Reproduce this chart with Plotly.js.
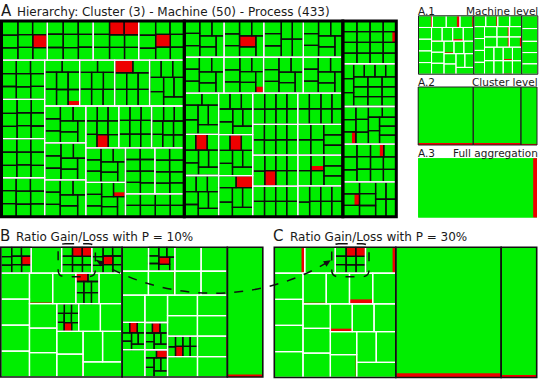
<!DOCTYPE html>
<html>
<head>
<meta charset="utf-8">
<script src="https://cdn.plot.ly/plotly-3.0.1.min.js"></script>
<style>
  html, body { margin: 0; padding: 0; background: #fff; }
  #chart { width: 543px; height: 382px; }
</style>
</head>
<body>
<div id="chart"></div>
<script>
// ---------------------------------------------------------------
// Data: 3 clusters, 50 machines, 433 processes (load per process)
// ---------------------------------------------------------------
const clusterNames = ['c1', 'c2', 'c3'];

// cluster 1: 23 machines
const processLoadC1 = [
  [23, 21, 20, 20, 20, 19, 19, 19, 18],
  [21, 21, 20, 20, 20, 20, 19, 19, 19],
  [22, 21, 21, 20, 20, 19, 19, 18, 18],
  [24, 22, 20, 19, 19, 19, 19, 18, 18],
  [20, 19, 19, 19, 19, 19, 18, 18, 18],
  [22, 20, 19, 19, 18, 18, 18, 18, 17],
  [21, 20, 19, 19, 19, 18, 18, 18, 17],
  [19, 19, 19, 19, 19, 19, 18, 18, 18],
  [21, 21, 20, 20, 20, 20, 19, 19],
  [22, 21, 20, 20, 20, 19, 19, 19],
  [23, 21, 20, 20, 19, 19, 19, 19],
  [20, 20, 20, 20, 20, 20, 20, 19],
  [20, 19, 19, 19, 19, 19, 19, 18],
  [21, 20, 19, 19, 19, 18, 18, 18],
  [19, 19, 19, 19, 19, 19, 19, 18],
  [17, 16, 16, 15, 15, 15, 15, 15, 14],
  [16, 16, 15, 15, 15, 15, 15, 15, 15],
  [18, 16, 15, 15, 15, 15, 15, 14, 14],
  [18, 17, 17, 17, 17, 17, 17, 16],
  [19, 18, 17, 17, 17, 16, 16, 16],
  [17, 17, 17, 17, 17, 17, 17, 16],
  [18, 18, 17, 17, 17, 16, 16, 16],
  [17, 17, 17, 17, 17, 17, 16, 16]
];

// cluster 2: 22 machines
const processLoadC2 = [
  [19, 19, 18, 18, 18, 18, 17, 17],
  [20, 18, 18, 18, 18, 18, 17, 17],
  [22, 21, 20, 20, 20, 20, 20],
  [19, 18, 18, 18, 18, 18, 17, 17],
  [18, 18, 18, 18, 18, 18, 17, 17],
  [20, 19, 18, 17, 17, 17, 17, 17],
  [19, 18, 18, 18, 18, 17, 17, 17],
  [18, 18, 18, 18, 18, 18, 17, 17],
  [21, 20, 20, 20, 20, 20, 20],
  [18, 18, 18, 18, 18, 17, 17, 17],
  [19, 18, 18, 18, 17, 17, 17, 17],
  [18, 18, 18, 18, 18, 17, 17, 17],
  [18, 18, 18, 18, 17, 17, 17, 17],
  [21, 20, 20, 20, 20, 20, 19],
  [19, 18, 18, 17, 17, 17, 17, 17],
  [18, 18, 18, 18, 17, 17, 17, 17],
  [18, 18, 18, 17, 17, 17, 17, 17],
  [20, 20, 20, 20, 20, 20, 19],
  [19, 18, 17, 17, 17, 17, 17, 17],
  [18, 18, 17, 17, 17, 17, 17, 17],
  [20, 20, 20, 20, 20, 19, 19],
  [19, 17, 17, 17, 17, 17, 17, 17]
];

// cluster 3: 5 machines
const processLoadC3 = [
  [15, 15, 15, 15, 14, 14, 14, 14, 14, 14, 14, 14, 14, 14, 14, 14],
  [16, 15, 15, 14, 14, 14, 14, 14, 14, 14, 14, 14, 14, 14, 14, 14],
  [17, 16, 16, 16, 16, 15, 15, 15, 15, 15, 15, 15, 15],
  [18, 18, 17, 17, 17, 17, 17, 16, 16, 16, 16, 16],
  [20, 19, 19, 19, 19, 18, 18, 18, 18, 18]
];

// processes in the "loss" state and the share of their load concerned
const lossProcess = ['c1m1p8', 'c1m3p4', 'c1m3p5', 'c1m4p6', 'c1m11p1', 'c1m16p8',
                     'c2m2p6', 'c2m10p2', 'c2m13p2', 'c2m14p2', 'c2m19p4',
                     'c3m3p3', 'c3m1p12', 'c3m4p7', 'c3m5p2',
                     'c2m21p3', 'c2m6p8', 'c1m20p5', 'c1m9p8'];
const lossShare   = [1, 1, 1, 1, 1, 1,
                     1, 1, 1, 1, 1,
                     0.3, 0.3, 0.3, 0.3,
                     0.3, 0.3, 0.3, 0.3];

// nodes left expanded by the aggregation at P = 10% and P = 30%
const openB = ['c1', 'c2', 'c1m1', 'c1m3', 'c1m4', 'c1m11', 'c1m16',
               'c2m2', 'c2m10', 'c2m13', 'c2m14', 'c2m19'];
const openC = ['c1', 'c1m3'];

// text
const panelLetters = ['A', 'B', 'C'];
const panelTitles = ['Hierarchy: Cluster (3) - Machine (50) - Process (433)',
                     'Ratio Gain/Loss with P = 10%',
                     'Ratio Gain/Loss with P = 30%'];
const insetTags = ['A.1', 'A.2', 'A.3'];
const insetTitles = ['Machine level', 'Cluster level', 'Full aggregation'];

// ---------------------------------------------------------------
const W = 543, H = 382;
const GREEN = '#00ee00', RED = '#ee0000', CLEAR = 'rgba(0,0,0,0)';
const FONT = 'DejaVu Sans, Verdana, sans-serif';

function buildTree() {
  const loads = [processLoadC1, processLoadC2, processLoadC3];
  const root = { id: 'root', depth: 0, children: [] };
  clusterNames.forEach((c, ci) => {
    const cn = { id: c, depth: 1, children: [] };
    loads[ci].forEach((procs, mi) => {
      const mid = c + 'm' + (mi + 1);
      const mn = { id: mid, depth: 2, children: [] };
      procs.forEach((v, pi) => {
        const pid = mid + 'p' + (pi + 1);
        const k = lossProcess.indexOf(pid);
        mn.children.push({ id: pid, depth: 3, children: [], load: v, loss: k < 0 ? 0 : v * lossShare[k] });
      });
      cn.children.push(mn);
    });
    root.children.push(cn);
  });
  (function total(n) {
    if (n.children.length) {
      n.load = 0; n.loss = 0;
      n.children.forEach(ch => { total(ch); n.load += ch.load; n.loss += ch.loss; });
    }
  })(root);
  return root;
}
const tree = buildTree();

function treemap(nodes, domain, lineColor, lineWidths) {
  return {
    type: 'treemap',
    ids: nodes.ids, labels: nodes.ids, parents: nodes.parents, values: nodes.values,
    branchvalues: 'remainder', sort: true, domain: domain,
    textinfo: 'none', hoverinfo: 'skip',
    tiling: { packing: 'squarify', squarifyratio: 1, pad: 0 },
    marker: {
      colors: nodes.colors, depthfade: false,
      line: { color: lineColor, width: lineWidths },
      pad: { t: 0, l: 0, r: 0, b: 0 }
    },
    leaf: { opacity: 1 },
    pathbar: { visible: false },
    root: { color: CLEAR }
  };
}

// One panel = a filled treemap plus transparent copies that only draw the borders
// of one hierarchy level, painted from the finest level to the coarsest.
function panelTraces(p) {
  const domain = { x: [p.box[0] / W, p.box[2] / W], y: [1 - p.box[3] / H, 1 - p.box[1] / H] };
  const out = [];
  const base = { ids: [], parents: [], values: [], colors: [] };
  const add = (o, id, par, v, col) => { o.ids.push(id); o.parents.push(par); o.values.push(v); o.colors.push(col); };
  (function walk(n, par) {
    const id = p.key + '|' + n.id;
    if (n.children.length && p.open(n)) {
      add(base, id, par, 0, GREEN);
      n.children.forEach(ch => walk(ch, id));
    } else if (n.loss <= 0) {
      add(base, id, par, n.load, GREEN);
    } else if (n.loss >= n.load) {
      add(base, id, par, n.load, RED);
    } else {
      add(base, id, par, 0, GREEN);
      add(base, id + '|ok', id, n.load - n.loss, GREEN);
      add(base, id + '|loss', id, n.loss, RED);
    }
  })(tree, '');
  out.push(treemap(base, domain, CLEAR, 0));

  p.strokes.forEach(([depth, color, width]) => {
    const o = { ids: [], parents: [], values: [], colors: [] };
    const widths = [];
    (function walk(n, par) {
      const id = p.key + '|' + n.id;
      const open = n.depth < depth && n.children.length && p.open(n);
      add(o, id, par, open ? 0 : n.load, CLEAR);
      widths.push(n.depth === depth ? width : 0);
      if (open) n.children.forEach(ch => walk(ch, id));
    })(tree, '');
    out.push(treemap(o, domain, color, widths));
  });
  return out;
}

const fineStrokes = [[3, '#0d0d0d', 1.3], [2, '#ffffff', 1.3], [1, '#111111', 1.6], [0, '#111111', 2]];
const panels = [
  { key: 'A',  box: [1.5, 21, 396.3, 216.7], open: n => true,
    strokes: [[3, '#0d0d0d', 1.3], [2, '#ffffff', 1.3], [1, '#000000', 3], [0, '#000000', 3]] },
  { key: 'A1', box: [418.5, 15.8, 537.8, 74.2], open: n => n.depth < 2,
    strokes: [[2, '#ffffff', 1], [1, '#222222', 1], [0, '#222222', 1]] },
  { key: 'A2', box: [418.2, 87, 537, 145], open: n => n.depth < 1,
    strokes: [[1, '#222222', 1], [0, '#222222', 1]] },
  { key: 'A3', box: [418.2, 158.2, 537, 217.5], open: n => false,
    strokes: [[0, '#222222', 1]] },
  { key: 'B',  box: [0.8, 247.2, 262.8, 377], open: n => n.depth === 0 || openB.includes(n.id),
    strokes: fineStrokes },
  { key: 'C',  box: [274.3, 247.2, 536.7, 377.5], open: n => n.depth === 0 || openC.includes(n.id),
    strokes: fineStrokes }
];

const traces = [];
panels.forEach(p => traces.push(...panelTraces(p)));

// ---------------------------------------------------------------
// Titles
function label(text, xpx, basePx, size, anchor) {
  return {
    text: text, xref: 'paper', yref: 'paper',
    x: xpx / W, y: 1 - (basePx + 0.24 * size) / H,
    xanchor: anchor, yanchor: 'bottom', showarrow: false, borderpad: 0,
    font: { family: FONT, size: size, color: '#1a1a1a' }
  };
}
const annotations = [
  label(panelLetters[0], 0, 17, 15, 'left'),
  label(panelTitles[0], 16, 17, 12, 'left'),
  label(panelLetters[1], -1, 242, 15, 'left'),
  label(panelTitles[1], 15, 242, 12, 'left'),
  label(panelLetters[2], 272, 242, 15, 'left'),
  label(panelTitles[2], 289, 242, 12, 'left'),
  label(insetTags[0], 417, 15, 10.5, 'left'),
  label(insetTitles[0], 539, 15, 10.5, 'right'),
  label(insetTags[1], 417, 86, 10.5, 'left'),
  label(insetTitles[1], 539, 86, 10.5, 'right'),
  label(insetTags[2], 417, 157, 10.5, 'left'),
  label(insetTitles[2], 539, 157, 10.5, 'right')
];

const layout = {
  width: W, height: H,
  margin: { l: 0, r: 0, t: 0, b: 0 },
  paper_bgcolor: '#ffffff',
  showlegend: false,
  annotations: annotations
};

// ---------------------------------------------------------------
// Dashed frames around machine c1m3 in B and C, joined by a curved arrow
const X = px => (px / W).toFixed(5);
const Y = py => (1 - py / H).toFixed(5);

function sliceBox(gd, id) {
  const g0 = gd.getBoundingClientRect();
  let found = null;
  gd.querySelectorAll('g.slice').forEach(g => {
    if (found) return;
    const d = g.__data__;
    const pt = d && d.data && (d.data.data || d.data);
    if (pt && pt.id === id) {
      const r = (g.querySelector('path.surface') || g).getBoundingClientRect();
      found = { x0: r.left - g0.left, y0: r.top - g0.top, x1: r.right - g0.left, y1: r.bottom - g0.top };
    }
  });
  return found;
}

function roundRect(b, r) {
  return `M${X(b.x0 + r)},${Y(b.y0)} L${X(b.x1 - r)},${Y(b.y0)} Q${X(b.x1)},${Y(b.y0)} ${X(b.x1)},${Y(b.y0 + r)} ` +
         `L${X(b.x1)},${Y(b.y1 - r)} Q${X(b.x1)},${Y(b.y1)} ${X(b.x1 - r)},${Y(b.y1)} ` +
         `L${X(b.x0 + r)},${Y(b.y1)} Q${X(b.x0)},${Y(b.y1)} ${X(b.x0)},${Y(b.y1 - r)} ` +
         `L${X(b.x0)},${Y(b.y0 + r)} Q${X(b.x0)},${Y(b.y0)} ${X(b.x0 + r)},${Y(b.y0)} Z`;
}

function arrowHead(tip, from) {
  const dx = tip.x - from.x, dy = tip.y - from.y, len = Math.hypot(dx, dy);
  const ux = dx / len, uy = dy / len, nx = -uy, ny = ux;
  const bx = tip.x - ux * 7, by = tip.y - uy * 7;
  return {
    type: 'path', xref: 'paper', yref: 'paper',
    path: `M${X(tip.x)},${Y(tip.y)} L${X(bx + nx * 3.2)},${Y(by + ny * 3.2)} L${X(bx - nx * 3.2)},${Y(by - ny * 3.2)} Z`,
    fillcolor: '#111111', line: { width: 0 }
  };
}

function addLinks(gd) {
  const b = sliceBox(gd, 'B|c1m3'), c = sliceBox(gd, 'C|c1m3');
  if (!b || !c) return;
  const pad = 3.5;
  const boxes = [b, c].map(s => ({ x0: s.x0 - pad, y0: s.y0 - pad, x1: s.x1 + pad, y1: s.y1 + pad }));
  const dashed = { color: '#111111', width: 1.5, dash: 'dash' };
  const shapes = boxes.map(bx => ({ type: 'path', xref: 'paper', yref: 'paper', path: roundRect(bx, 7), line: dashed }));
  const p0 = { x: boxes[0].x1 + 1, y: (boxes[0].y0 + boxes[0].y1) / 2 };
  const p3 = { x: boxes[1].x0 - 1, y: (boxes[1].y0 + boxes[1].y1) / 2 };
  const p1 = { x: p0.x + 70, y: p0.y + 44 };
  const p2 = { x: p3.x - 70, y: p3.y + 44 };
  shapes.push({
    type: 'path', xref: 'paper', yref: 'paper', line: dashed,
    path: `M${X(p0.x)},${Y(p0.y)} C${X(p1.x)},${Y(p1.y)} ${X(p2.x)},${Y(p2.y)} ${X(p3.x)},${Y(p3.y)}`
  });
  shapes.push(arrowHead(p0, p1));
  shapes.push(arrowHead(p3, p2));
  return Plotly.relayout(gd, { shapes: shapes });
}

Plotly.newPlot('chart', traces, layout, { staticPlot: true, displayModeBar: false })
  .then(addLinks);
</script>
</body>
</html>
